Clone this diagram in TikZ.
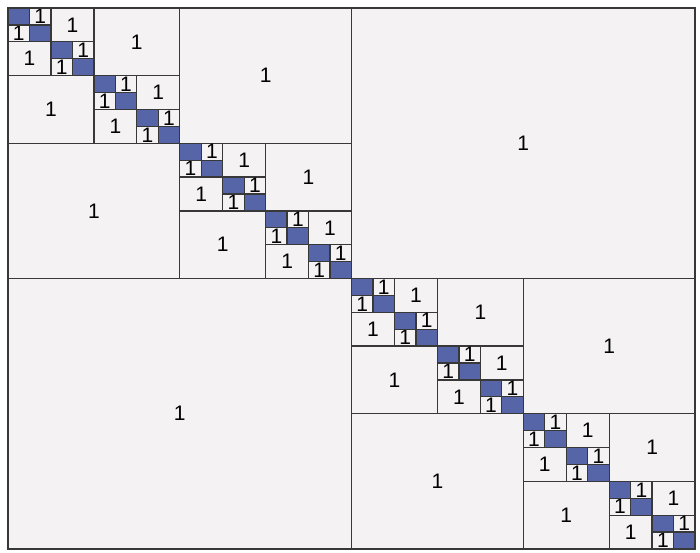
\documentclass[tikz,border=0pt]{standalone}
\usepackage{fontspec}
\setmainfont{Liberation Sans}
\usetikzlibrary{positioning}
\definecolor{bgray}{HTML}{F4F2F3}
\definecolor{dblue}{HTML}{5565A8}
\definecolor{edge}{HTML}{383838}

\begin{document}
\begin{tikzpicture}[x=21.47pt,y=-16.906pt,
  every node/.style={font=\fontsize{21}{22}\selectfont,inner sep=0pt,outer sep=0pt},
  block/.style={draw=edge,line width=1.3pt,fill=bgray},
  dense/.style={block,fill=dblue,minimum width=21.47pt,minimum height=16.906pt}]
\useasboundingbox (-0.3726,-0.4732) rectangle (32.231,32.237);
\fill[bgray] (0,0) rectangle (32,32);
% low-rank blocks, level by level
\foreach \k in {1,...,5}{
  \pgfmathtruncatemacro{\s}{32/2^\k}
  \pgfmathtruncatemacro{\n}{2^(\k-1)-1}
  \foreach \i in {0,...,\n}{
    \pgfmathsetmacro{\p}{2*\i*\s}
    \node[block,minimum width=\s*21.47pt,minimum height=\s*16.906pt] (ur-\k-\i) at (\p+1.5*\s,\p+0.5*\s) {1};
    \node[block,minimum width=\s*21.47pt,minimum height=\s*16.906pt] (ll-\k-\i) at (\p+0.5*\s,\p+1.5*\s) {1};
  }
}
% dense diagonal leaves
\foreach \j in {0,...,31}
  \node[dense] (d-\j) at (\j+0.5,\j+0.5) {};
\draw[edge,line width=1.3pt] (0,0) rectangle (32,32);
\end{tikzpicture}
\end{document}
